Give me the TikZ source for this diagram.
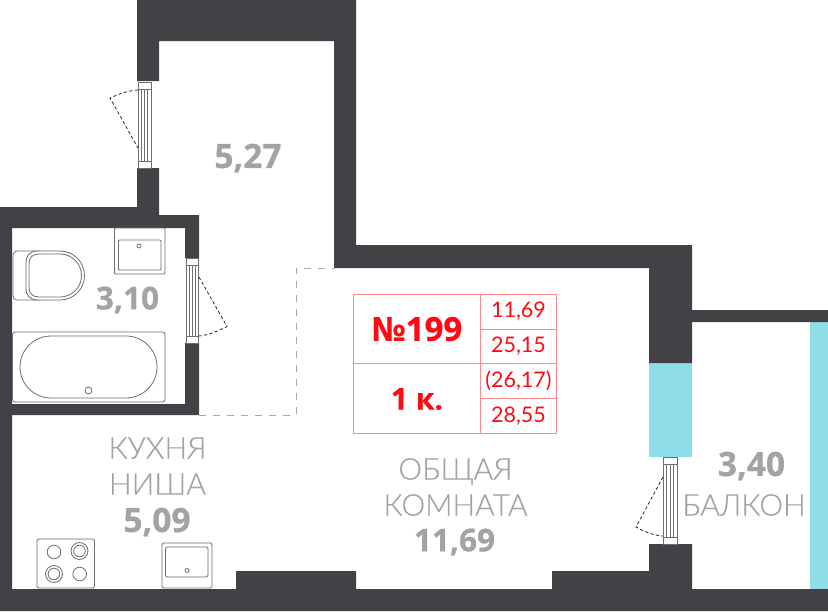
\documentclass[tikz,border=0pt]{standalone}
\usepackage{fontspec}
\setmainfont{Open Sans}
\newfontfamily\lightf[FakeBold=0.25]{Lato Light}
\newfontfamily\regf{Lato}
\newfontfamily\boldf[FakeBold=0.6]{Open Sans Bold}
\definecolor{wallc}{HTML}{434146}
\definecolor{glassc}{HTML}{8FDDE8}
\definecolor{labelc}{HTML}{A3A3A3}
\definecolor{fixc}{HTML}{6E6E70}
\definecolor{tabc}{HTML}{FF8A8A}
\definecolor{dashc}{HTML}{A8A8A8}
\definecolor{redc}{HTML}{FF0A14}
\tikzset{
  x=1pt,y=-1pt,
  wall/.style={fill=wallc,draw=none},
  glass/.style={fill=glassc,draw=none},
  fixture/.style={draw=fixc,line width=0.8pt,fill=white},
  doorframe/.style={draw=fixc,line width=0.9pt,fill=white},
  swing/.style={draw=black!85,line width=0.8pt,dash pattern=on 3.2pt off 2.4pt},
  opening/.style={draw=dashc,line width=0.9pt,dash pattern=on 7pt off 7pt},
  num/.style={text=labelc,font=\boldf\fontsize{33.5}{33.5}\selectfont,inner sep=0pt},
  numnarrow/.style={num,font=\boldf\fontsize{31.5}{31.5}\selectfont},
  word/.style={text=labelc,font=\lightf\fontsize{30}{36}\selectfont,inner sep=0pt,align=center},
  tabline/.style={draw=tabc,line width=1pt},
  tabbig/.style={text=redc,font=\boldf\fontsize{33}{33}\selectfont,inner sep=0pt},
  tabsmall/.style={text=redc,font=\regf\fontsize{21.5}{24}\selectfont,inner sep=0pt},
}
\newcommand{\doorv}[4]{% x0 x1 y0 y1
  \draw[doorframe] (#1,#3) rectangle (#2,#4);
  \draw[fixc,line width=0.9pt] (#1,#3+7) -- (#2,#3+7) (#1,#4-7) -- (#2,#4-7);
  \foreach \k in {0.25,0.5,0.75}{\draw[fixc,line width=0.9pt] ({#1+\k*(#2-#1)},#3+7) -- ({#1+\k*(#2-#1)},#4-7);}
}
\begin{document}
\begin{tikzpicture}
\useasboundingbox (0,0) rectangle (828,611);
\fill[white] (0,0) rectangle (828,611);
% glass
\fill[glass] (649,363) rectangle (692,457);
\fill[glass] (810,322) rectangle (828,589);
% walls
\fill[wall] (137,0) -- (356,0) -- (356,245) -- (692,245) -- (692,310) -- (828,310) -- (828,322) -- (692,322) -- (692,363) -- (649,363) -- (649,268) -- (334,268) -- (334,41) -- (159,41) -- (159,81) -- (151,81) -- (137,81) -- cycle;
\fill[wall] (137,168) -- (159,168) -- (159,215) -- (199,215) -- (199,258) -- (185,258) -- (185,228) -- (12,228) -- (12,404) -- (185,404) -- (185,343) -- (199,343) -- (199,415) -- (12,415) -- (12,589) -- (236,589) -- (236,571) -- (356,571) -- (356,589) -- (552,589) -- (552,571) -- (649,571) -- (649,544) -- (692,544) -- (692,589) -- (828,589) -- (828,611) -- (0,611) -- (0,207) -- (137,207) -- cycle;
% openings
\draw[opening] (199,415) -- (296,415) -- (296,268) -- (334,268);
% doors
\doorv{138}{151}{82}{168}
\doorv{186}{198.5}{258}{343}
\doorv{663.5}{677}{457}{544}
\draw[swing] (138,90) .. controls (128,90.5) and (119,94) .. (110,98) -- (138,148);
\draw[swing] (199,277) -- (227,326.5) .. controls (218,331) and (209,335) .. (199,336);
\draw[swing] (663,477) -- (636,527) .. controls (645,532) and (654,535.5) .. (663,536);
% WC
\draw[fixture,rounded corners=4pt] (13,251) rectangle (44,300);
\draw[fixture] (38,251) -- (60,251) arc[start angle=-90,end angle=90,radius=24.5] -- (38,300) .. controls (30,300) and (26,296) .. (26,288) -- (26,263) .. controls (26,255) and (30,251) .. (38,251) -- cycle;
\draw[fixture] (39,254) -- (60,254) arc[start angle=-90,end angle=90,radius=21.5] -- (39,297) .. controls (32,297) and (29,293) .. (29,287) -- (29,264) .. controls (29,258) and (32,254) .. (39,254) -- cycle;
% basin
\draw[fixture,rounded corners=1pt] (114.5,228) rectangle (165,274);
\draw[fixture,rounded corners=1pt] (118.5,240) rectangle (161,270);
\draw[fixture] (139,246) circle[radius=2];
% bath
\draw[fixture,rounded corners=2.5pt] (12.5,332) rectangle (165,402);
\draw[fixture,rounded corners=31pt] (20,336) rectangle (157,398);
\draw[fixture] (88.5,390.5) circle[radius=3.5];
% hob
\draw[fixture,rounded corners=1.5pt] (37,539) rectangle (94.5,588);
\draw[fixture] (54,552) circle[radius=6.8];
\draw[fixture] (79.5,551) circle[radius=8.5];
\draw[fixture] (79.5,551) circle[radius=5.8];
\draw[fixture] (54,574) circle[radius=8.5];
\draw[fixture] (54,574) circle[radius=5.8];
\draw[fixture] (79.7,574) circle[radius=6.8];
% kitchen sink
\draw[fixture,rounded corners=1.5pt] (162,543) rectangle (212,588);
\draw[fixture,rounded corners=1.5pt] (165.5,547) rectangle (208,577);
\draw[fixture] (187,570.5) circle[radius=2];
% table
\draw[tabline] (353.3,294.3) rectangle (556,433);
\draw[tabline] (480.7,294.3) -- (480.7,433);
\draw[tabline] (353.3,363.4) -- (556,363.4);
\draw[tabline] (480.7,329) -- (556,329);
\draw[tabline] (480.7,398.4) -- (556,398.4);
\node[tabbig] (no) at (417,329) {№199};
\node[tabbig,font=\boldf\fontsize{30}{30}\selectfont] (rooms) at (417,399) {1 к.};
\node[tabsmall] (a1) at (518.5,311.5) {11,69};
\node[tabsmall] (a2) at (518.5,346.5) {25,15};
\node[tabsmall] (a3) at (518.5,381) {(26,17)};
\node[tabsmall] (a4) at (518.5,416) {28,55};
% labels
\node[num] (l1) at (248,158) {5,27};
\node[numnarrow] (l2) at (127.5,300) {3,10};
\node[num] (l3) at (751.5,466) {3,40};
\node[word] (l4) at (744,505) {БАЛКОН};
\node[word] (l5) at (157.5,466) {КУХНЯ\\НИША};
\node[num] (l6) at (157,522) {5,09};
\node[word] (l7) at (455.5,487) {ОБЩАЯ\\КОМНАТА};
\node[numnarrow] (l8) at (454.5,542) {11,69};
\end{tikzpicture}
\end{document}
